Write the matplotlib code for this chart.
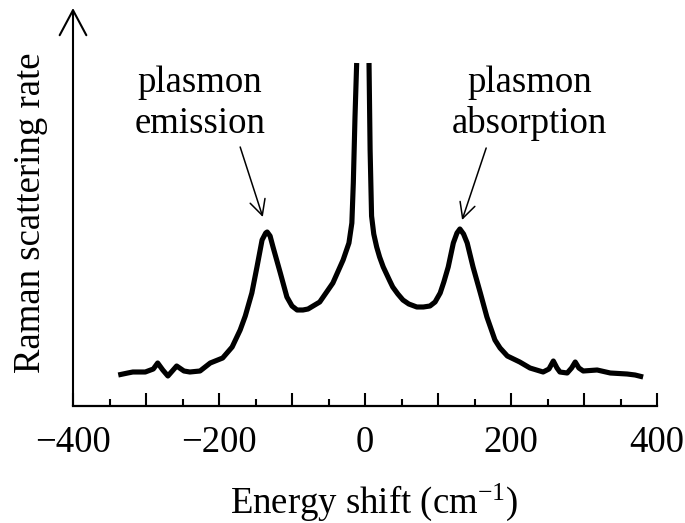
import numpy as np
import matplotlib
matplotlib.use("Agg")
import matplotlib.pyplot as plt

plt.rcParams['font.family'] = ['Liberation Serif', 'DejaVu Serif']
plt.rcParams['mathtext.fontset'] = 'custom'
plt.rcParams['mathtext.rm'] = 'Liberation Serif'
plt.rcParams['mathtext.it'] = 'Liberation Serif:italic'

# Energy shift (cm^-1) and Raman scattering rate (arbitrary units)
shift_left = [-338, -325, -318, -301, -290, -284, -277, -270, -258, -248, -240, -226,
              -212, -195, -182, -171, -164, -155, -148, -141, -136, -134, -130, -126,
              -116, -107, -100, -93, -85, -78, -62, -44, -30, -22, -18, -16, -13.7, -11.4]
rate_left = [31, 33, 34, 34, 37, 43, 36, 30, 40, 35, 34, 35,
             43, 48, 59, 76, 90, 113, 139, 166, 173, 174, 170, 159,
             133, 109, 100, 96, 96, 97, 104, 123, 146, 163, 183, 223, 289, 343]
shift_right = [5.5, 7, 9, 12, 16, 20, 25, 34, 38, 45, 52, 60, 71, 80, 89, 96, 103, 108,
               114, 121, 126, 130, 135, 140, 148, 158, 167, 178, 185, 195, 212, 226,
               244, 252, 258, 263, 267, 277, 283, 288, 293, 299, 318, 336, 359, 370, 381]
rate_right = [343, 256, 190, 172, 159, 149, 139, 125, 119, 112, 106, 102, 99, 99, 100, 104, 113, 124,
              139, 163, 173, 177, 172, 163, 139, 113, 89, 66, 58, 50, 44, 38,
              34, 37, 45, 38, 34, 33, 38, 44, 38, 35, 36, 33, 32, 31, 29]

x_major = [-400, -300, -200, -100, 0, 100, 200, 300, 400]
x_labels = ['\u2212400', '', '\u2212200', '', '0', '', '200', '', '400']
x_minor = [-350, -250, -150, -50, 50, 150, 250, 350]

W, H = 685, 523
fig = plt.figure(figsize=(W / 100, H / 100), dpi=100)
ax = fig.add_axes([73 / W, (H - 406) / H, (657 - 73) / W, 400 / H])

shift = np.array(shift_left + [np.nan] + shift_right, dtype=float)
rate = np.array(rate_left + [np.nan] + rate_right, dtype=float)
ax.plot(shift, rate, color='black', lw=3.7, solid_joinstyle='round', solid_capstyle='butt')

ax.set_xlim(-400, 400)
ax.set_ylim(0, 400)
for s in ['top', 'right', 'left']:
    ax.spines[s].set_visible(False)
ax.spines['bottom'].set_linewidth(1.6)
ax.set_yticks([])
ax.set_xticks(x_major)
ax.set_xticklabels(x_labels)
ax.set_xticks(x_minor, minor=True)
ax.tick_params(axis='x', which='major', direction='in', length=9.5, width=1.5,
               labelsize=26.5, pad=14)
ax.tick_params(axis='x', which='minor', direction='in', length=5, width=1.5)

# y axis with open arrow head
ax.annotate('', xy=(-400, 398), xytext=(-400, 0), xycoords='data',
            arrowprops=dict(arrowstyle='->,head_length=0.9,head_width=0.48',
                            lw=1.5, color='black', shrinkA=0, shrinkB=0,
                            mutation_scale=20),
            annotation_clip=False)

# peak annotations
ax.text(-226, 314, 'plasmon', ha='center', va='baseline', fontsize=26.5)
ax.text(-226, 273, 'emission', ha='center', va='baseline', fontsize=26.5)
ax.text(225, 314, 'plasmon', ha='center', va='baseline', fontsize=26.5)
ax.text(225, 273, 'absorption', ha='center', va='baseline', fontsize=26.5)
arrow_kw = dict(arrowstyle='->,head_length=0.55,head_width=0.28', lw=1.1,
                color='black', shrinkA=0, shrinkB=0, mutation_scale=20)
ax.annotate('', xy=(-140, 189), xytext=(-171, 259), arrowprops=arrow_kw)
ax.annotate('', xy=(133, 186), xytext=(166, 258), arrowprops=arrow_kw)

fig.text(31 / W, 1 - 213 / H, 'Raman scattering rate', rotation=90,
         ha='center', va='center', fontsize=26.5)
fig.text(374 / W, 1 - 513 / H, 'Energy shift (cm$^{-1}$)', ha='center',
         va='baseline', fontsize=26.5)

fig.savefig('out.png', dpi=100)
